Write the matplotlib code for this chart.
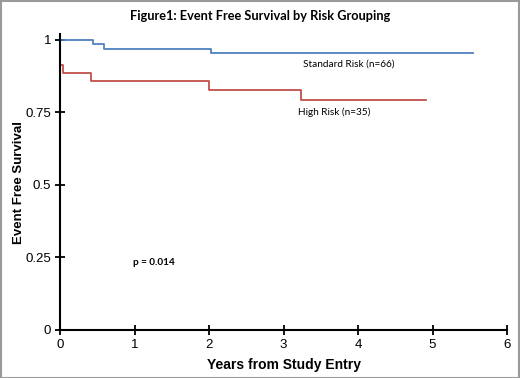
import matplotlib.pyplot as plt
import numpy as np

# Kaplan-Meier step points
std_years = [0, 0.44, 0.595, 2.03, 5.55]
std_surv = [1.0, 0.985, 0.970, 0.955, 0.955]
high_years = [0, 0.005, 0.035, 0.41, 2.0, 3.23, 4.91]
high_surv = [1.0, 0.914, 0.886, 0.857, 0.828, 0.793, 0.793]

x_ticks = [0, 1, 2, 3, 4, 5, 6]
y_ticks = [0, 0.25, 0.5, 0.75, 1]
y_tick_labels = ["0", "0.25", "0.5", "0.75", "1"]

fig = plt.figure(figsize=(5.2, 3.78), dpi=100)
ax = fig.add_axes([0.1154, 0.127, 0.8596, 0.783])

ax.step(std_years, std_surv, where="post", color="#4f81bd", lw=1.3)
ax.step(high_years, high_surv, where="post", color="#c0504d", lw=1.3)

ax.set_xlim(0, 6)
ax.set_ylim(0, 1.02)
ax.set_xticks(x_ticks)
ax.set_yticks(y_ticks)
ax.set_yticklabels(y_tick_labels)
for s in ["top", "right"]:
    ax.spines[s].set_visible(False)
for s in ["left", "bottom"]:
    ax.spines[s].set_linewidth(1.5)
ax.tick_params(direction="inout", length=7, width=1.3, labelsize=9.5, pad=3)
for lab in ax.get_xticklabels() + ax.get_yticklabels():
    lab.set_fontfamily("Liberation Sans")

ax.set_xlabel("Years from Study Entry", fontsize=10, fontweight="bold",
              family="Liberation Sans", labelpad=5)
ax.set_ylabel("Event Free Survival", fontsize=9.5, fontweight="bold",
              family="Liberation Sans", labelpad=0)

ax.text(3.26, 0.915, "Standard Risk (n=66)", fontsize=7.2, family="Lato",
        va="center", ha="left")
ax.text(3.2, 0.752, "High Risk (n=35)", fontsize=7.2, family="Lato",
        va="center", ha="left")
ax.text(0.98, 0.234, "p = 0.014", fontsize=7.2, family="Lato",
        fontweight="bold", va="center", ha="left")

fig.text(0.5, 0.958, "Figure1: Event Free Survival by Risk Grouping",
         ha="center", va="center", fontsize=9.2, fontweight="bold", family="Lato")

fig.patches.append(plt.Rectangle((0.001, 0.001), 0.997, 0.997, transform=fig.transFigure,
                                 fill=False, edgecolor="#9a9a9a", lw=1.5))

fig.savefig("out.png", dpi=100)
